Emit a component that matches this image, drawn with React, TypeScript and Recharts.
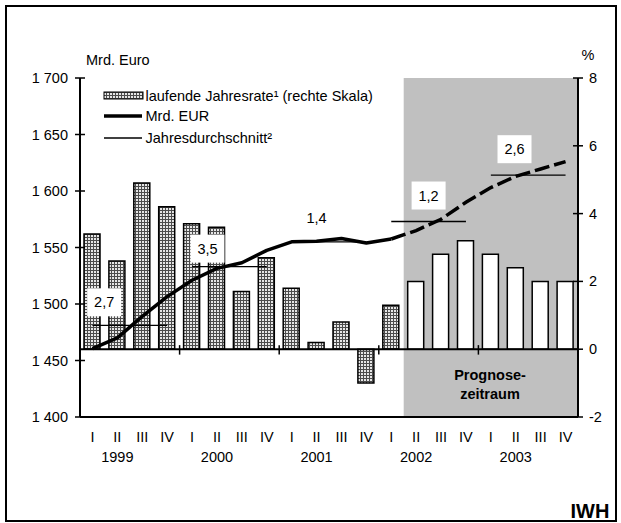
import React from 'react';
import {
  ComposedChart,
  Bar,
  Line,
  XAxis,
  YAxis,
  ReferenceArea,
  ReferenceLine,
  ReferenceDot,
  Legend,
  Cell,
} from 'recharts';

// ---- data ---------------------------------------------------------------
const YEARS = ['1999', '2000', '2001', '2002', '2003'];
const QUARTERS = ['I', 'II', 'III', 'IV'];

// laufende Jahresrate in % (rechte Skala), one value per quarter
const RATE = [3.4, 2.6, 4.9, 4.2, 3.7, 3.6, 1.7, 2.7, 1.8, 0.2, 0.8, -1.0, 1.3, 2.0, 2.8, 3.2, 2.8, 2.4, 2.0, 2.0];

// level in Mrd. EUR (linke Skala), one value per quarter
const GDP = [1460.5, 1470, 1489, 1506.5, 1521, 1531.5, 1536.5, 1547.5, 1555, 1555.5, 1558, 1554, 1557.5, 1565, 1575, 1590, 1603, 1613, 1619.5, 1626];

// index of the first forecast quarter (2002 II)
const FORECAST_FROM = 13;

// Jahresdurchschnitt in Mrd. EUR and its growth rate in %
const ANNUAL_AVG = [1481, 1533, 1555, 1573, 1614];
const ANNUAL_GROWTH = [2.7, 3.5, 1.4, 1.2, 2.6];

const LEFT_TICKS = [1400, 1450, 1500, 1550, 1600, 1650, 1700];
const RIGHT_TICKS = [-2, 0, 2, 4, 6, 8];

const LEGEND_NAMES = ['laufende Jahresrate\u00b9 (rechte Skala)', 'Mrd. EUR', 'Jahresdurchschnitt\u00b2'];

// ---- layout -------------------------------------------------------------
const W = 621;
const H = 523;
const LEFT_W = 80;
const RIGHT_W = 43;
const TOP = 78;
const X_AXIS_H = 106;
const BAND = (W - LEFT_W - RIGHT_W) / (YEARS.length * QUARTERS.length);
const FONT = "'Liberation Sans', Arial, Helvetica, sans-serif";
const FS = 14.5;

// where the growth boxes sit: anchor quarter of each year, shift in bands, height on the left scale
const GROWTH_SPOTS = [
  { q: 'I', shift: 0.47, at: 1501.5 },
  { q: 'I', shift: 0.62, at: 1549 },
  { q: 'II', shift: 0, at: 1576 },
  { q: 'II', shift: 0.5, at: 1596 },
  { q: 'II', shift: -0.05, at: 1637 },
];

const rows = YEARS.flatMap((year, yi) =>
  QUARTERS.map((q, qi) => {
    const i = yi * 4 + qi;
    return {
      key: `${year} ${q}`,
      rate: RATE[i],
      actual: i < FORECAST_FROM ? GDP[i] : null,
      forecast: i >= FORECAST_FROM - 1 ? GDP[i] : null,
      forecastBar: i >= FORECAST_FROM,
    };
  })
);

const fmtLeft = (v: number) => `${Math.floor(v / 1000)} ${String(v % 1000).padStart(3, '0')}`;
const fmtComma = (v: number) => v.toFixed(1).replace('.', ',');

const textStyle = { fontFamily: FONT, fontSize: FS, fill: '#000' } as const;

const LeftTick = (props: any) => {
  const { x, y, payload } = props;
  return (
    <g>
      <line x1={x - 5} x2={x + 5} y1={y} y2={y} stroke="#000" strokeWidth={1.5} />
      <text x={x - 12} y={y} dy="0.35em" textAnchor="end" style={textStyle}>
        {fmtLeft(payload.value)}
      </text>
    </g>
  );
};

const RightTick = (props: any) => {
  const { x, y, payload } = props;
  return (
    <g>
      <line x1={x - 5} x2={x + 5} y1={y} y2={y} stroke="#000" strokeWidth={1.5} />
      <text x={x + 11} y={y} dy="0.35em" textAnchor="start" style={textStyle}>
        {String(payload.value)}
      </text>
    </g>
  );
};

const QuarterTick = (props: any) => {
  const { x, y, payload } = props;
  const [year, q] = String(payload.value).split(' ');
  return (
    <g>
      <text x={x} y={y + 20} dy="0.35em" textAnchor="middle" style={textStyle}>
        {q}
      </text>
      {q === 'II' && (
        <text x={x} y={y + 40} dy="0.35em" textAnchor="middle" style={textStyle}>
          {year}
        </text>
      )}
    </g>
  );
};

const GrowthBox = (cx: number, cy: number, label: string) => (
  <g>
    <rect x={cx - 17} y={cy - 14} width={34} height={28} fill="#fff" />
    <text x={cx} y={cy} dy="0.35em" textAnchor="middle" style={textStyle}>
      {label}
    </text>
  </g>
);

// stippled fill for the historical bars
const Dots = ({ id }: { id: string }) => (
  <pattern id={id} width={3} height={3} patternUnits="userSpaceOnUse">
    <rect width={3} height={3} fill="#4c4c4c" />
    <rect x={1} y={1} width={2} height={2} fill="#e6e6e6" />
  </pattern>
);

const LegendBox = () => (
  <svg width={320} height={64} style={{ display: 'block', overflow: 'visible' }}>
    <defs>
      <Dots id="dotsLegend" />
    </defs>
    <rect x={4} y={6} width={39} height={7} fill="url(#dotsLegend)" stroke="#000" strokeWidth={1} />
    <text x={45.5} y={10} dy="0.35em" style={textStyle}>{LEGEND_NAMES[0]}</text>
    <line x1={4} x2={42} y1={30} y2={30} stroke="#000" strokeWidth={3.5} />
    <text x={45.5} y={30} dy="0.35em" style={textStyle}>{LEGEND_NAMES[1]}</text>
    <line x1={4} x2={42} y1={52} y2={52} stroke="#000" strokeWidth={1.3} />
    <text x={45.5} y={52} dy="0.35em" style={textStyle}>{LEGEND_NAMES[2]}</text>
  </svg>
);

export default function App() {
  return (
    <div style={{ position: 'absolute', left: 0, top: 0, width: W, height: H, background: '#fff', fontFamily: FONT }}>
      <ComposedChart width={W} height={H} data={rows} margin={{ top: TOP, right: 0, bottom: 0, left: 0 }}>
        <XAxis
          dataKey="key"
          type="category"
          interval={0}
          height={X_AXIS_H}
          tickLine={false}
          tickSize={0}
          tickMargin={0}
          tick={<QuarterTick />}
          axisLine={{ stroke: '#000', strokeWidth: 2 }}
        />
        <YAxis
          yAxisId="left"
          orientation="left"
          width={LEFT_W}
          domain={[1400, 1700]}
          ticks={LEFT_TICKS}
          interval={0}
          tickLine={false}
          tickSize={0}
          tickMargin={0}
          tick={<LeftTick />}
          axisLine={{ stroke: '#000', strokeWidth: 2 }}
        />
        <YAxis
          yAxisId="right"
          orientation="right"
          width={RIGHT_W}
          domain={[-2, 8]}
          ticks={RIGHT_TICKS}
          interval={0}
          tickLine={false}
          tickSize={0}
          tickMargin={0}
          tick={<RightTick />}
          axisLine={{ stroke: '#000', strokeWidth: 2 }}
        />
        <ReferenceArea
          yAxisId="left"
          x1={rows[FORECAST_FROM].key}
          x2={rows[rows.length - 1].key}
          y1={1400}
          y2={1700}
          fill="#c0c0c0"
          fillOpacity={1}
          stroke="none"
        />
        <Bar
          dataKey="rate"
          yAxisId="right"
          name={LEGEND_NAMES[0]}
          barSize={16}
          stroke="#000"
          strokeWidth={1.5}
          isAnimationActive={false}
        >
          {rows.map((r) => (
            <Cell key={r.key} fill={r.forecastBar ? '#ffffff' : 'url(#dotsBar)'} />
          ))}
        </Bar>
        <ReferenceLine yAxisId="right" y={0} stroke="#000" strokeWidth={2} />
        {YEARS.slice(1).map((year) => (
          <ReferenceLine
            key={`tick-${year}`}
            yAxisId="right"
            position="start"
            segment={[
              { x: `${year} I`, y: 0.12 },
              { x: `${year} I`, y: -0.16 },
            ]}
            stroke="#000"
            strokeWidth={1.5}
          />
        ))}
        {YEARS.map((year, yi) => (
          <ReferenceLine
            key={`avg-${year}`}
            yAxisId="left"
            segment={[
              { x: `${year} I`, y: ANNUAL_AVG[yi] },
              { x: `${year} IV`, y: ANNUAL_AVG[yi] },
            ]}
            stroke="#000"
            strokeWidth={1.3}
          />
        ))}
        <Line
          dataKey="actual"
          yAxisId="left"
          name={LEGEND_NAMES[1]}
          stroke="#000"
          strokeWidth={3.5}
          strokeLinejoin="round"
          dot={false}
          activeDot={false}
          connectNulls={false}
          isAnimationActive={false}
        />
        <Line
          dataKey="forecast"
          yAxisId="left"
          legendType="none"
          stroke="#000"
          strokeWidth={3.5}
          strokeDasharray="15 5"
          dot={false}
          activeDot={false}
          connectNulls={false}
          isAnimationActive={false}
        />
        {YEARS.map((year, yi) => {
          const spot = GROWTH_SPOTS[yi];
          return (
            <ReferenceDot
              key={`growth-${year}`}
              yAxisId="left"
              x={`${year} ${spot.q}`}
              y={spot.at}
              r={0}
              zIndex={2500}
              shape={(p: any) => GrowthBox(p.cx + spot.shift * BAND, p.cy, fmtComma(ANNUAL_GROWTH[yi]))}
            />
          );
        })}
        <Legend
          layout="vertical"
          align="center"
          verticalAlign="middle"
          wrapperStyle={{ left: 100, top: 86, width: 320, height: 64 }}
          content={() => <LegendBox />}
        />
      </ComposedChart>
      <svg
        width={W}
        height={H}
        style={{ position: 'absolute', left: 0, top: 0, pointerEvents: 'none' }}
      >
        <defs>
          <Dots id="dotsBar" />
        </defs>
        <rect x={6} y={6} width={610} height={515} fill="none" stroke="#000" strokeWidth={2} />
        <text x={86} y={60} dy="0.35em" style={textStyle}>Mrd. Euro</text>
        <text x={588} y={55} dy="0.35em" textAnchor="middle" style={textStyle}>%</text>
        <text x={490} y={375} dy="0.35em" textAnchor="middle" style={{ ...textStyle, fontWeight: 700 }}>Prognose-</text>
        <text x={490} y={393.5} dy="0.35em" textAnchor="middle" style={{ ...textStyle, fontWeight: 700 }}>zeitraum</text>
        <text x={570.5} y={517.5} style={{ ...textStyle, fontSize: 20, fontWeight: 700 }}>IWH</text>
      </svg>
    </div>
  );
}
